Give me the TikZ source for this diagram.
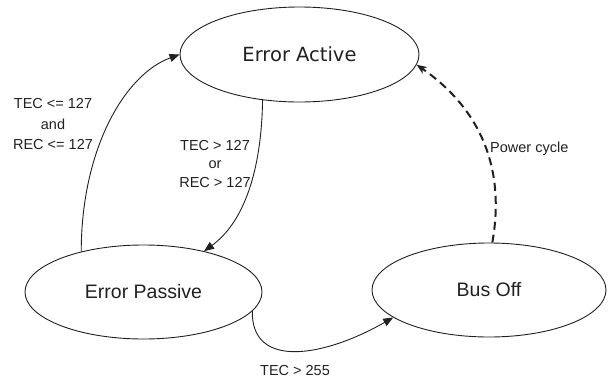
\documentclass[tikz,border=0pt]{standalone}
\usepackage{fontspec}
\setmainfont{Liberation Sans}
\newfontfamily\dejavu{DejaVu Sans}
\usetikzlibrary{shapes.geometric,arrows.meta}
\definecolor{ink}{HTML}{231F20}
\tikzset{
  state/.style={ellipse, draw=ink, line width=0.9pt, inner sep=0pt, text=ink},
  trans/.style={draw=ink, line width=0.9pt, -{Triangle[length=10pt,width=8pt]}},
  dtrans/.style={draw=ink, line width=2pt, dash pattern=on 8pt off 5pt, -{Stealth[length=10pt,width=8pt,inset=3pt]}},
  lbl/.style={text=ink, inner sep=0pt, font=\fontsize{14.5}{17}\selectfont}
}
\begin{document}
\begin{tikzpicture}[x=1pt,y=-1pt]
\useasboundingbox (0,0) rectangle (608,378);
\node[state, minimum width=239pt, minimum height=95pt, font=\dejavu\fontsize{19.5}{23}\selectfont] (ea) at (299.5,54.5) {Error Active};
\node[state, minimum width=237pt, minimum height=94pt, font=\fontsize{19.5}{23}\selectfont] (ep) at (143.5,292) {Error Passive};
\node[state, minimum width=234pt, minimum height=94pt, font=\fontsize{19.5}{23}\selectfont] (bo) at (489,290) {Bus Off};

\draw[trans] (ep.147.4) .. controls +(0,-102) and +(-55,20) .. (ea.180);
\draw[trans] (ea.231) .. controls +(-1,70) and +(40,-29) .. (ep.34);
\draw[trans] (ep.-10.4) .. controls +(-1,58) and +(-70,40) .. (bo.196.6);
\draw[dtrans] (bo.86) .. controls +(13,-73) and +(65,45) .. (ea.-5.2);

\node[lbl, align=center, font=\fontsize{14.5}{20.5}\selectfont] (l1) at (53,124.5) {TEC <= 127\\and\\REC <= 127};
\node[lbl, align=center, font=\fontsize{14.5}{18.3}\selectfont] (l2) at (215,164) {TEC > 127\\or\\REC > 127};
\node[lbl, anchor=base west] (l3) at (490,152) {Power cycle};
\node[lbl, anchor=base] (l4) at (295,375) {TEC > 255};
\end{tikzpicture}
\end{document}
